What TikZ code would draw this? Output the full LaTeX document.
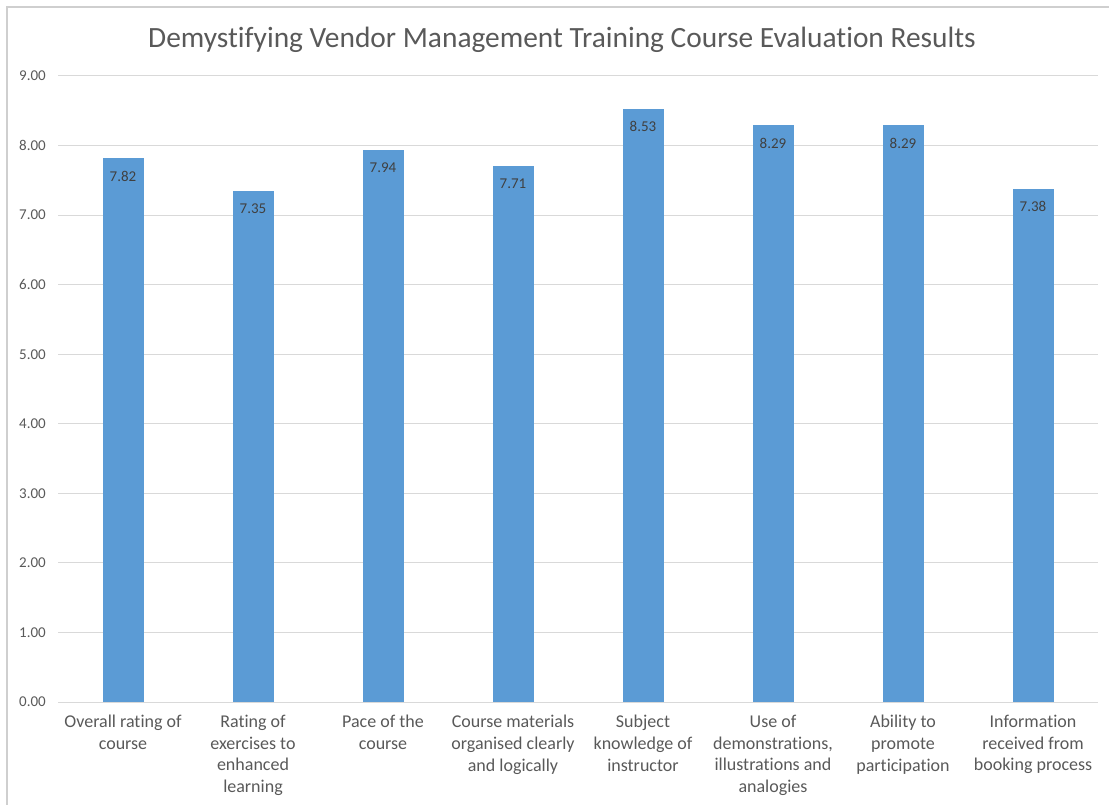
\documentclass[tikz,border=0pt]{standalone}
\usepackage{fontspec}
\setmainfont[Ligatures=CommonOff]{Carlito}
\definecolor{barblue}{HTML}{5B9BD5}
\definecolor{gridgray}{HTML}{D9D9D9}
\definecolor{textgray}{HTML}{595959}
\definecolor{valgray}{HTML}{404040}
\definecolor{framegray}{HTML}{CFCFCF}
\begin{document}
\begin{tikzpicture}[x=1pt,y=-1pt,
    ticklabel/.style={anchor=east,inner sep=0pt,text=textgray,font=\fontsize{15}{17}\selectfont},
    barlabel/.style={inner sep=0pt,text=valgray,font=\fontsize{15}{17}\selectfont},
    catlabel/.style={anchor=north,align=center,inner sep=0pt,text=textgray,font=\fontsize{18}{21.7}\selectfont}]
  \useasboundingbox (0,0) rectangle (1109,805);
  % Frame
  \draw[framegray,line width=2pt] (7,805) -- (7,7) -- (1109,7);
  % Title
  \node[text=textgray,font=\fontsize{29.4}{34}\selectfont] (title) at (562,40)
    {Demystifying Vendor Management Training Course Evaluation Results};
  % Gridlines and axis labels
  \foreach \v in {0,...,9}{
    \draw[gridgray,line width=1pt] (58,{702-69.56*\v}) -- (1098,{702-69.56*\v});
    \node[ticklabel] (tick\v) at (46,{702-69.56*\v}) {\v.00};
  }
  % Bars with values
  \foreach \val [count=\i] in {7.82,7.35,7.94,7.71,8.53,8.29,8.29,7.38}{
    \fill[barblue] ({123+130*(\i-1)-20.5},702) rectangle ({123+130*(\i-1)+20.5},{702-69.56*\val});
    \node[barlabel] (val\i) at ({123+130*(\i-1)},{702-69.56*\val+18}) {\val};
  }
  % Category labels
  \foreach \txt [count=\i] in {{Overall rating of\\course},
      {Rating of\\exercises to\\enhanced\\learning},
      {Pace of the\\course},
      {Course materials\\organised clearly\\and logically},
      {Subject\\knowledge of\\instructor},
      {Use of\\demonstrations,\\illustrations and\\analogies},
      {Ability to\\promote\\participation},
      {Information\\received from\\booking process}}{
    \node[catlabel] (cat\i) at ({123+130*(\i-1)},715) {\txt};
  }
\end{tikzpicture}
\end{document}
